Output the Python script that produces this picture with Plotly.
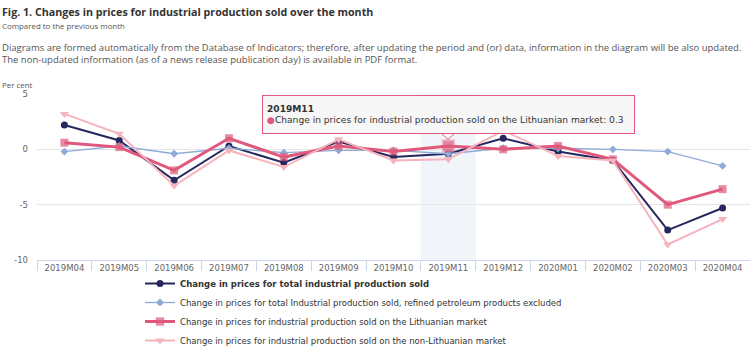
import plotly.graph_objects as go

categories = ["2019M04", "2019M05", "2019M06", "2019M07", "2019M08", "2019M09", "2019M10",
              "2019M11", "2019M12", "2020M01", "2020M02", "2020M03", "2020M04"]
total = [2.2, 0.8, -2.8, 0.3, -1.2, 0.7, -0.7, -0.4, 1.0, -0.2, -1.0, -7.3, -5.3]
excl_petroleum = [-0.2, 0.3, -0.4, 0.1, -0.3, -0.1, -0.1, -0.4, 0.1, 0.1, 0.0, -0.2, -1.5]
lithuanian = [0.6, 0.2, -1.9, 1.0, -0.7, 0.3, -0.2, 0.3, 0.0, 0.3, -0.9, -5.0, -3.6]
non_lithuanian = [3.2, 1.4, -3.3, -0.1, -1.6, 0.9, -1.0, -0.9, 1.7, -0.6, -1.0, -8.6, -6.3]
y_ticks = [5, 0, -5, -10]

names = [
    "<b>Change in prices for total industrial production sold</b>",
    "Change in prices for total Industrial production sold, refined petroleum products excluded",
    "Change in prices for industrial production sold on the Lithuanian market",
    "Change in prices for industrial production sold on the non-Lithuanian market",
]

W, H = 750, 348
L, R, T, B = 37, 0, 94, 88
PW, PH = W - L - R, H - T - B


def px(x):
    return (x - L) / PW


def py(y):
    return (H - B - y) / PH


hover_cat = "2019M11"
hi = categories.index(hover_cat)

fig = go.Figure()
fig.add_shape(type="rect", xref="x", yref="paper", x0=hi - 0.5, x1=hi + 0.5, y0=0, y1=1,
              fillcolor="rgba(204,214,235,0.28)", line_width=0, layer="below")

fig.add_trace(go.Scatter(x=categories, y=total, name=names[0], mode="lines+markers",
                         line=dict(color="#27275f", width=2),
                         marker=dict(symbol="circle", size=7, color="#27275f")))
fig.add_trace(go.Scatter(x=categories, y=excl_petroleum, name=names[1], mode="lines+markers",
                         line=dict(color="#8eaad8", width=1.3),
                         marker=dict(symbol="diamond", size=6, color="#8eaad8")))
fig.add_trace(go.Scatter(x=categories, y=lithuanian, name=names[2], mode="lines+markers",
                         line=dict(color="#e0597c", width=3),
                         marker=dict(symbol="square",
                                     size=[11 if c == hover_cat else 8 for c in categories],
                                     color="#e0597c",
                                     line=dict(width=[3 if c == hover_cat else 0 for c in categories],
                                               color="rgba(224,89,124,0.3)"))))
fig.add_trace(go.Scatter(x=categories, y=non_lithuanian, name=names[3], mode="lines+markers",
                         line=dict(color="#f6b3be", width=2),
                         marker=dict(symbol="triangle-down", size=8, color="#f6b3be")))

small = "Open Sans"
ann = []
ann.append(dict(text="<b>Fig. 1. Changes in prices for industrial production sold over the month</b>",
                x=px(0), y=py(3), font=dict(family="Open Sans", size=10.7, color="#333333")))
ann.append(dict(text="Compared to the previous month", x=px(0), y=py(19),
                font=dict(family=small, size=7.9, color="#555555")))
ann.append(dict(text="Diagrams are formed automatically from the Database of Indicators; therefore, after updating the period and (or) data, information in the diagram will be also updated.<br>The non-updated information (as of a news release publication day) is available in PDF format.",
                x=px(0), y=py(39), align="left",
                font=dict(family=small, size=9.5, color="#555555")))
ann.append(dict(text="Per cent", x=px(0), y=py(78), font=dict(family=small, size=7.9, color="#555555")))
for a in ann:
    a.update(xref="paper", yref="paper", xanchor="left", yanchor="top", showarrow=False)
    fig.add_annotation(**a)

# tooltip pointer
fig.add_shape(type="path", xref="paper", yref="paper", layer="above",
              path=f"M {px(441)},{py(133)} L {px(448)},{py(139.5)} L {px(455)},{py(133)} Z",
              fillcolor="rgb(247,247,247)", line=dict(color="#e0597c", width=1))

lith_val = lithuanian[hi]
fig.add_annotation(
    xref="paper", yref="paper", x=px(262), y=py(95), xanchor="left", yanchor="top",
    showarrow=False, align="left", valign="middle", width=363, height=29,
    text=f"<b>{hover_cat}</b><br><span style='color:#e0597c'>●</span>Change in prices for industrial production sold on the Lithuanian market: {lith_val}",
    font=dict(family="DejaVu Sans", size=9.1, color="#333333"),
    bgcolor="rgba(247,247,247,0.95)", bordercolor="#e0597c", borderwidth=1, borderpad=4,
)

fig.update_layout(
    width=W, height=H, margin=dict(l=L, r=R, t=T, b=B, pad=0, autoexpand=False),
    paper_bgcolor="white", plot_bgcolor="white",
    showlegend=True,
    legend=dict(orientation="v", x=px(140), y=py(269), xanchor="left", yanchor="top",
                font=dict(family="DejaVu Sans", size=8.5, color="#333333"),
                bgcolor="rgba(0,0,0,0)", itemwidth=30, tracegroupgap=0),
    hovermode=False,
)
fig.update_xaxes(type="category", categoryorder="array", categoryarray=categories,
                 range=[-0.5, len(categories) - 0.5],
                 showgrid=False, showline=True, linecolor="#ccd6eb", linewidth=1,
                 ticks="outside", tickson="boundaries", ticklen=10, tickcolor="#ccd6eb",
                 tickfont=dict(family="DejaVu Sans", size=8.5, color="#666666"), zeroline=False)
fig.update_yaxes(range=[-10, 5], tickvals=y_ticks, ticktext=[str(v) for v in y_ticks],
                 showgrid=True, gridcolor="#e6e6e6", gridwidth=1, zeroline=False,
                 showline=False, ticks="", ticklabelstandoff=8,
                 tickfont=dict(family="DejaVu Sans", size=8.5, color="#666666"))

fig.write_html("out.html")
